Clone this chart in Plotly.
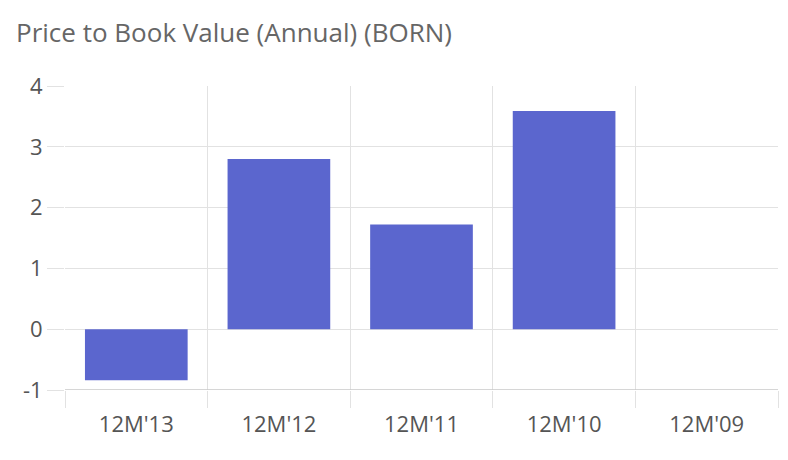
import plotly.graph_objects as go

categories = ["12M'13", "12M'12", "12M'11", "12M'10", "12M'09"]
values = [-0.84, 2.80, 1.72, 3.59, None]
y_ticks = [-1, 0, 1, 2, 3, 4]
y_tick_text = ["-1", "0", "1", "2", "3", "4"]

W, H = 780, 452  # page body adds an 8px margin

fig = go.Figure(go.Bar(
    x=categories, y=values,
    marker=dict(color="#5B66CE", line=dict(width=0)),
    width=0.72,
))

font_family = "Open Sans, sans-serif"
fig.update_layout(
    width=W, height=H,
    margin=dict(l=57, r=10, t=78, b=70),
    paper_bgcolor="white", plot_bgcolor="white",
    showlegend=False,
    title=dict(text="Price to Book Value (Annual) (BORN)", x=8/W, xanchor="left",
               y=1 - 25/H, yanchor="middle",
               font=dict(family=font_family, size=26, color="#666666")),
    font=dict(family=font_family, color="#555555"),
)
fig.update_xaxes(
    type="category", tickson="boundaries", showgrid=True, gridcolor="#e2e2e2", gridwidth=1,
    ticks="outside", ticklen=17, tickcolor="#e2e2e2",
    tickfont=dict(size=22, color="#555555"), showline=False,
    range=[-0.5, 4.5], automargin=False, ticklabelstandoff=19,
)
fig.update_yaxes(
    range=[-1, 4], tickvals=y_ticks, ticktext=y_tick_text,
    showgrid=True, gridcolor="#e2e2e2", gridwidth=1,
    zeroline=True, zerolinecolor="#e2e2e2", zerolinewidth=1,
    ticks="outside", ticklen=17, tickcolor="#e2e2e2",
    tickfont=dict(size=22, color="#555555"),
    showline=False, automargin=False,
)
fig.add_shape(type="line", xref="paper", yref="y", x0=0, x1=1, y0=-1, y1=-1,
              line=dict(color="#c8c8c8", width=1.5))
fig.write_html("out.html")
